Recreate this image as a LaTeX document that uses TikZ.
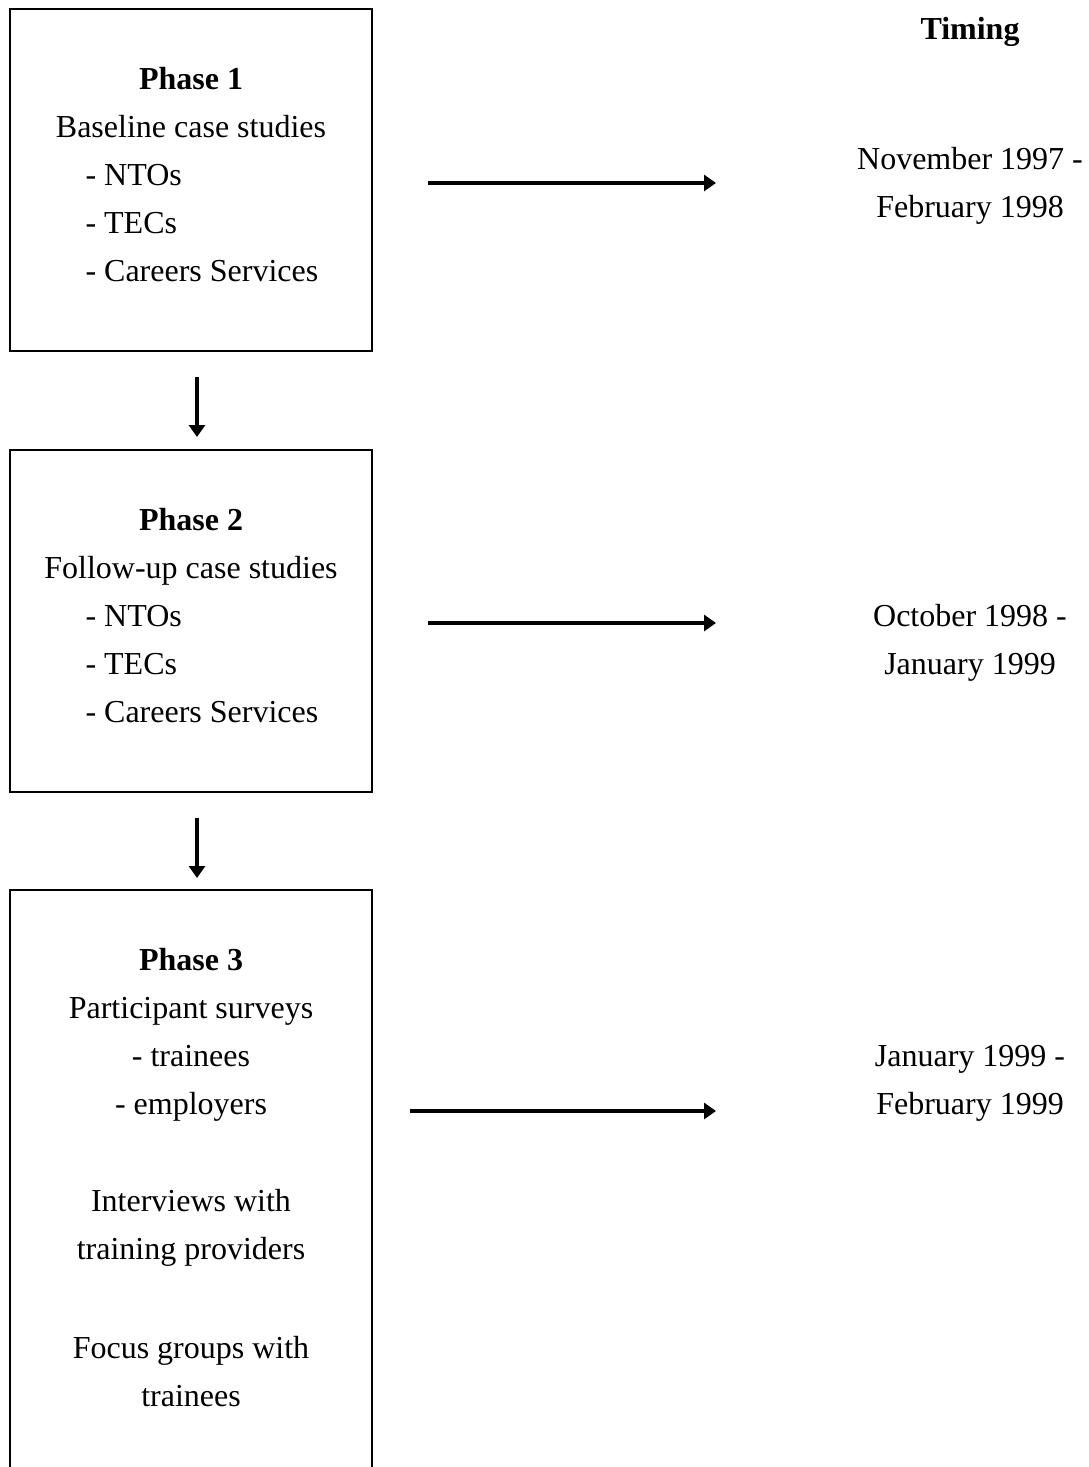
\documentclass[tikz,border=0pt]{standalone}
\usepackage{fontspec}
\setmainfont{Liberation Serif}
\usetikzlibrary{arrows.meta}

\begin{document}
\begin{tikzpicture}[x=0.375pt,y=-0.375pt,
    phase/.style={draw,line width=0.75pt,inner sep=0pt,minimum width=362*0.375pt},
    txt/.style={anchor=base,inner sep=0pt,font=\fontsize{12}{18}\selectfont},
    item/.style={txt,anchor=base west},
    flow/.style={-{Triangle[length=4.5pt,width=6pt]},line width=1.8pt}]
    \useasboundingbox (0,0) rectangle (1088,1467);

    % boxes
    \node [phase,minimum height=342*0.375pt] (p1) at (191,180) {};
    \node [phase,minimum height=342*0.375pt] (p2) at (191,621) {};
    \node [phase,minimum height=700*0.375pt] (p3) at (191,1240) {};

    % phase 1
    \node [txt,font=\fontsize{12}{18}\selectfont\bfseries] (h1) at (191,89) {Phase 1};
    \node [txt] (s1) at (191,137) {Baseline case studies};
    \node [item] (n1) at (85,185) {- NTOs};
    \node [item] (e1) at (85,233) {- TECs};
    \node [item] (c1) at (85,281) {- Careers Services};

    % phase 2
    \node [txt,font=\fontsize{12}{18}\selectfont\bfseries] (h2) at (191,530) {Phase 2};
    \node [txt] (s2) at (191,578) {Follow-up case studies};
    \node [item] (n2) at (85,626) {- NTOs};
    \node [item] (e2) at (85,674) {- TECs};
    \node [item] (c2) at (85,722) {- Careers Services};

    % phase 3
    \node [txt,font=\fontsize{12}{18}\selectfont\bfseries] (h3) at (191,970) {Phase 3};
    \node [txt] (s3) at (191,1018) {Participant surveys};
    \node [txt] (tr3) at (191,1066) {- trainees};
    \node [txt] (em3) at (191,1114) {- employers};
    \node [txt] (iv3) at (191,1211) {Interviews with};
    \node [txt] (pr3) at (191,1259) {training providers};
    \node [txt] (fg3) at (191,1358) {Focus groups with};
    \node [txt] (ft3) at (191,1406) {trainees};

    % timing
    \node [txt,font=\fontsize{12}{18}\selectfont\bfseries] (tim) at (970,39) {Timing};
    \node [txt] (t1a) at (970,169) {November 1997 -};
    \node [txt] (t1b) at (970,217) {February 1998};
    \node [txt] (t2a) at (970,626) {October 1998 -};
    \node [txt] (t2b) at (970,674) {January 1999};
    \node [txt] (t3a) at (970,1066) {January 1999 -};
    \node [txt] (t3b) at (970,1114) {February 1999};

    % arrows
    \coordinate (d1) at (197,377); \coordinate (d1e) at (197,437);
    \coordinate (d2) at (197,818); \coordinate (d2e) at (197,878);
    \draw [flow] (d1) -- (d1e);
    \draw [flow] (d2) -- (d2e);
    \coordinate (a1) at (428,183); \coordinate (b1) at (716,183);
    \coordinate (a2) at (428,623); \coordinate (b2) at (716,623);
    \coordinate (a3) at (410,1111); \coordinate (b3) at (716,1111);
    \draw [flow] (a1) -- (b1);
    \draw [flow] (a2) -- (b2);
    \draw [flow] (a3) -- (b3);
\end{tikzpicture}
\end{document}
